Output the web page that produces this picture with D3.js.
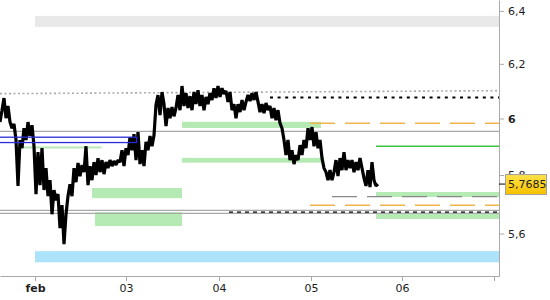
<!DOCTYPE html>
<html>
<head>
<meta charset="utf-8">
<script src="https://cdn.jsdelivr.net/npm/d3@7"></script>
<style>
  body { margin: 0; background: #fff; }
  text { font-family: "DejaVu Sans", Verdana, sans-serif; font-size: 11px; fill: #1e1e1e; }
</style>
</head>
<body>
<div id="chart"></div>
<script>
// x is counted in bars (one close per bar), ticks are month starts
var monthLabels = ["feb", "03", "04", "05", "06", ""];
var monthTicks = [17.5, 63, 109.5, 155.5, 201, 247];
var priceTicks = [5.6, 5.8, 6, 6.2, 6.4];
var lastPrice = 5.7685;

var closes = [
  5.987,6.030,6.074,6.001,6.045,5.987,5.965,5.980,5.923,5.762,
  5.923,5.894,5.965,5.923,5.987,5.937,5.976,5.901,5.734,5.880,
  5.765,5.894,5.748,5.824,5.727,5.782,5.665,5.748,5.713,5.734,
  5.618,5.696,5.564,5.665,5.727,5.768,5.727,5.824,5.775,5.842,
  5.796,5.835,5.810,5.901,5.765,5.831,5.782,5.845,5.800,5.859,
  5.810,5.852,5.803,5.845,5.824,5.852,5.831,5.849,5.835,5.852,
  5.845,5.887,5.831,5.894,5.870,5.933,5.887,5.944,5.852,5.951,
  5.838,5.887,5.831,5.916,5.887,5.937,5.901,5.940,6.049,6.085,
  6.012,6.096,6.052,5.973,6.038,6.001,6.041,6.008,6.038,6.085,
  6.030,6.118,6.045,6.092,6.038,6.081,6.030,6.096,6.052,6.103,
  6.045,6.085,6.030,6.078,6.052,6.092,6.067,6.110,6.074,6.118,
  6.078,6.110,6.089,6.100,6.060,6.096,6.030,6.052,6.001,6.052,
  6.023,6.067,6.030,6.060,6.085,6.063,6.092,6.067,6.096,6.060,
  6.023,6.052,6.019,6.056,6.030,6.045,6.001,6.038,5.994,6.030,
  5.983,5.965,5.923,5.870,5.923,5.852,5.887,5.838,5.870,5.852,
  5.905,5.870,5.923,5.894,5.965,5.923,5.969,5.901,5.951,5.894,
  5.923,5.859,5.824,5.810,5.782,5.817,5.782,5.810,5.852,5.796,
  5.859,5.817,5.880,5.817,5.852,5.824,5.852,5.810,5.845,5.817,
  5.859,5.824,5.789,5.762,5.817,5.758,5.845,5.782,5.762,5.7685
];

// zones: [fromBar, toBar, low, high]
var greyZones = [[17.5, 249.5, 6.339, 6.381]];
var blueZones = [[17.5, 249.5, 5.504, 5.541]];
var greenZones = [
  [91, 160.5, 5.966, 5.988],
  [91, 160.5, 5.843, 5.860],
  [46, 91, 5.720, 5.755],
  [47.5, 91, 5.625, 5.672],
  [8, 50.8, 5.893, 5.900],
  [188, 249.5, 5.724, 5.741],
  [188, 249.5, 5.649, 5.668]
];
var blueBoxes = [[0, 68.3, 5.914, 5.933]];

// lines: [fromBar, fromPrice, toBar, toPrice]
var trendLines = [[0, 6.090, 249.5, 6.101]];
var greyLines = [[0, 5.954, 249.5, 5.954], [0, 5.678, 249.5, 5.678], [0, 5.668, 249.5, 5.668]];
var greyDashLines = [[166, 5.7255, 249.5, 5.7255]];
var orangeLines = [[155, 5.983, 249.5, 5.983], [155, 5.6956, 249.5, 5.6956]];
var blackDotLines = [[135, 6.076, 249.5, 6.076]];
var blackDashLines = [[114.5, 5.672, 249.5, 5.672]];
var greenLines = [[188, 5.9006, 249.5, 5.9006]];

function drawChart() {
  var width = 550, height = 300,
      plotW = 499, plotH = 276;

  var x = d3.scaleLinear().domain([0, 249.5]).range([0, plotW]);
  var y = d3.scaleLog().domain([5.459, 6.442]).range([plotH, 0]);

  var svg = d3.select("#chart").append("svg")
      .attr("width", width)
      .attr("height", height);

  var defs = svg.append("defs");
  defs.append("clipPath").attr("id", "plot")
    .append("rect").attr("width", plotW).attr("height", plotH);
  var grad = defs.append("linearGradient").attr("id", "gold")
      .attr("x1", 0).attr("x2", 0).attr("y1", 0).attr("y2", 1);
  grad.append("stop").attr("offset", "0%").attr("stop-color", "#ffe34a");
  grad.append("stop").attr("offset", "100%").attr("stop-color", "#f6c000");

  var g = svg.append("g").attr("clip-path", "url(#plot)");

  function zones(rows, color) {
    g.append("g").selectAll("rect")
      .data(rows)
      .enter().append("rect")
      .attr("x", function (d) { return x(d[0]); })
      .attr("width", function (d) { return x(d[1]) - x(d[0]); })
      .attr("y", function (d) { return y(d[3]); })
      .attr("height", function (d) { return y(d[2]) - y(d[3]); })
      .attr("fill", color);
  }

  function lines(rows, color, w, dash) {
    g.append("g").selectAll("line")
      .data(rows)
      .enter().append("line")
      .attr("x1", function (d) { return x(d[0]); })
      .attr("y1", function (d) { return y(d[1]); })
      .attr("x2", function (d) { return x(d[2]); })
      .attr("y2", function (d) { return y(d[3]); })
      .attr("stroke", color)
      .attr("stroke-width", w)
      .attr("stroke-dasharray", dash);
  }

  zones(greyZones, "#e9e9e9");
  zones(blueZones, "#ade2fb");
  zones(greenZones, "#b6eab4");

  lines(trendLines, "#aaaaaa", 1.6, "2,2.5");
  lines(greyLines, "#a8a8a8", 1.2, null);
  lines(greyDashLines, "#888888", 1.3, "25,10");
  lines(orangeLines, "#f0b448", 1.4, "25,10");
  lines(blackDotLines, "#000", 2.2, "3,4.6");
  lines(blackDashLines, "#000", 1.3, "4,4");
  lines(greenLines, "#3ec43e", 1.5, null);

  var line = d3.line()
      .x(function (d, i) { return x(i); })
      .y(function (d) { return y(d); });

  g.append("path")
    .datum(closes)
    .attr("d", line)
    .attr("fill", "none")
    .attr("stroke", "#000")
    .attr("stroke-width", 3.2)
    .attr("stroke-linejoin", "bevel");

  g.append("g").selectAll("rect")
    .data(blueBoxes)
    .enter().append("rect")
    .attr("x", function (d) { return x(d[0]) - 2; })
    .attr("width", function (d) { return x(d[1]) - x(d[0]) + 2; })
    .attr("y", function (d) { return y(d[3]); })
    .attr("height", function (d) { return y(d[2]) - y(d[3]); })
    .attr("fill", "none")
    .attr("stroke", "#2a2ad4")
    .attr("stroke-width", 1.3);

  // axes
  var xAxis = d3.axisBottom(x)
      .tickValues(monthTicks)
      .tickFormat(function (d, i) { return monthLabels[i]; })
      .tickSize(5)
      .tickSizeOuter(0);

  var yAxis = d3.axisRight(y)
      .tickValues(priceTicks)
      .tickFormat(function (d) { return String(d).replace(".", ","); })
      .tickSize(5)
      .tickPadding(4)
      .tickSizeOuter(0);

  var gx = svg.append("g")
      .attr("transform", "translate(0," + plotH + ")")
      .call(xAxis);
  var gy = svg.append("g")
      .attr("transform", "translate(" + plotW + ",0)")
      .call(yAxis);

  [gx, gy].forEach(function (a) {
    a.select(".domain").attr("stroke", "#aaaaaa");
    a.selectAll(".tick line").attr("stroke", "#aaaaaa");
    a.selectAll("text")
      .attr("fill", "#1e1e1e")
      .attr("font-family", "DejaVu Sans, Verdana, sans-serif")
      .attr("font-size", 11);
  });
  gx.selectAll("text").filter(function (d, i) { return i === 0; }).attr("font-weight", "bold");
  gy.selectAll("text").filter(function (d) { return d === 6; }).attr("font-weight", "bold");

  // last price marker (covers the 5,8 label like the original)
  var ly = y(lastPrice);
  svg.append("line")
    .attr("x1", plotW).attr("x2", plotW + 6)
    .attr("y1", ly).attr("y2", ly)
    .attr("stroke", "#000");
  svg.append("rect")
    .attr("x", plotW + 6.5).attr("y", ly - 9.5)
    .attr("width", 41).attr("height", 20)
    .attr("fill", "url(#gold)")
    .attr("stroke", "#a0a0a0");
  svg.append("text")
    .attr("x", plotW + 9).attr("y", ly)
    .attr("dy", "0.36em")
    .text(String(lastPrice).replace(".", ","));
}

drawChart();
</script>
</body>
</html>
